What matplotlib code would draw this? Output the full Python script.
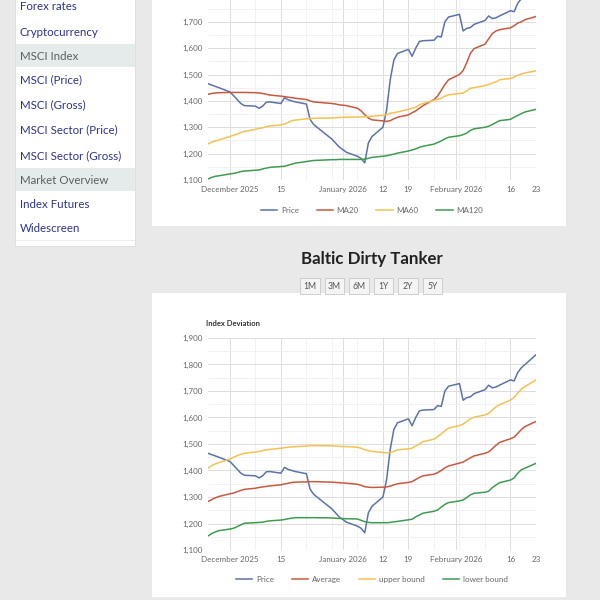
import numpy as np
import pandas as pd
import matplotlib
matplotlib.use('Agg')
import matplotlib.pyplot as plt
import matplotlib.dates as mdates
from matplotlib.patches import Rectangle
from matplotlib.ticker import FuncFormatter, MultipleLocator

# trading days Nov 25 2025 .. Feb 23 2026 (no Dec 25/26, Jan 1)
dates = pd.bdate_range('2025-11-25', '2026-02-23')
dates = dates.drop(pd.to_datetime(['2025-12-25', '2025-12-26', '2026-01-01']))

price = [1465, 1460, 1455, 1450,
         1434, 1420, 1405, 1390, 1382,
         1380, 1372, 1380, 1395, 1396,
         1390, 1412, 1404, 1400, 1396,
         1388, 1330, 1310,
         1255, 1240, 1225,
         1205,
         1190, 1182, 1165, 1240, 1265,
         1300, 1365, 1480, 1555, 1580,
         1595, 1569, 1600, 1625, 1628,
         1630, 1645, 1642, 1700, 1718,
         1728, 1665, 1675, 1678, 1690,
         1705, 1722, 1712, 1715, 1722,
         1742, 1738, 1770, 1788, 1800,
         1837]

ma20 = [1425, 1428, 1430, 1431,
        1432, 1432, 1432, 1432, 1432,
        1431, 1430, 1428, 1425, 1422,
        1418, 1416, 1414, 1412, 1410,
        1405, 1400, 1396,
        1390, 1388, 1385,
        1382,
        1372, 1362, 1348, 1335, 1328,
        1324, 1322, 1325, 1332, 1338,
        1347, 1355, 1362, 1372, 1382,
        1405, 1418, 1440, 1462, 1480,
        1500, 1515, 1545, 1580, 1598,
        1615, 1635, 1655, 1665, 1670,
        1677, 1685, 1695, 1700, 1708,
        1720]

ma60 = [1237, 1243, 1248, 1252,
        1265, 1270, 1274, 1280, 1284,
        1292, 1296, 1298, 1302, 1305,
        1309, 1312, 1318, 1325, 1327,
        1332, 1333, 1334,
        1335, 1336, 1337,
        1338,
        1339, 1339, 1340, 1341, 1342,
        1345, 1348, 1353, 1355, 1358,
        1368, 1372, 1376, 1385, 1390,
        1402, 1406, 1410, 1418, 1423,
        1428, 1430, 1438, 1448, 1450,
        1458, 1462, 1468, 1472, 1480,
        1485, 1490, 1497, 1502, 1506,
        1514]

ma120 = [1104, 1110, 1114, 1116,
         1123, 1125, 1128, 1132, 1134,
         1137, 1138, 1142, 1145, 1148,
         1151, 1152, 1156, 1160, 1164,
         1170, 1172, 1174,
         1177, 1177, 1178,
         1178,
         1178, 1178, 1179, 1182, 1186,
         1190, 1192, 1195, 1198, 1202,
         1210, 1214, 1218, 1224, 1228,
         1236, 1242, 1248, 1256, 1262,
         1268, 1272, 1278, 1288, 1294,
         1300, 1304, 1310, 1318, 1325,
         1330, 1338, 1345, 1352, 1358,
         1368]

average = [1283, 1290, 1297, 1302,
           1312, 1315, 1320, 1325, 1329,
           1333, 1336, 1338, 1340, 1342,
           1346, 1349, 1352, 1355, 1356,
           1357, 1358, 1358,
           1356, 1355, 1354,
           1352,
           1348, 1344, 1339, 1337, 1336,
           1337, 1338, 1341, 1346, 1350,
           1355, 1358, 1366, 1374, 1380,
           1386, 1392, 1400, 1410, 1417,
           1428, 1432, 1440, 1448, 1455,
           1465, 1470, 1482, 1495, 1506,
           1520, 1526, 1540, 1555, 1566,
           1585]

upper = [1409, 1418, 1425, 1430,
         1443, 1450, 1456, 1461, 1465,
         1470, 1472, 1475, 1478, 1480,
         1484, 1486, 1488, 1489, 1490,
         1492, 1494, 1494,
         1493, 1492, 1491,
         1490,
         1488, 1484, 1478, 1475, 1472,
         1468, 1467, 1468, 1472, 1478,
         1482, 1484, 1492, 1500, 1509,
         1518, 1528, 1538, 1550, 1560,
         1570, 1575, 1585, 1595, 1601,
         1610, 1615, 1628, 1640, 1648,
         1666, 1676, 1692, 1708, 1717,
         1742]

lower = [1153, 1162, 1168, 1173,
         1179, 1182, 1188, 1195, 1201,
         1203, 1204, 1205, 1208, 1210,
         1213, 1215, 1218, 1220, 1222,
         1222, 1222, 1222,
         1221, 1220, 1219,
         1218,
         1217, 1212, 1207, 1204, 1203,
         1203, 1203, 1204, 1206, 1208,
         1214, 1216, 1225, 1232, 1239,
         1246, 1251, 1262, 1272, 1279,
         1285, 1289, 1298, 1308, 1314,
         1318, 1322, 1335, 1345, 1354,
         1364, 1372, 1390, 1403, 1409,
         1427]

xtick_dates = ['2025-12-01', '2025-12-15', '2026-01-01', '2026-01-12',
               '2026-01-19', '2026-02-01', '2026-02-16', '2026-02-23']
xtick_labels = ['December 2025', '15', 'January 2026', '12', '19',
                'February 2026', '16', '23']

menu = ['Forex rates', 'Cryptocurrency', 'MSCI Index', 'MSCI (Price)', 'MSCI (Gross)',
        'MSCI Sector (Price)', 'MSCI Sector (Gross)', 'Market Overview',
        'Index Futures', 'Widescreen']
menu_headers = ['MSCI Index', 'Market Overview']
buttons = ['1M', '3M', '6M', '1Y', '2Y', '5Y']

C_BLUE = '#5b73a8'
C_RED = '#c65a40'
C_YEL = '#f2c253'
C_GRN = '#3f9b52'

W, H = 600, 600
fig = plt.figure(figsize=(6, 6), dpi=100)
fig.patch.set_facecolor('#e9e9e9')


def box(x0, y0, x1, y1, zorder=-2, **kw):
    # pixel coords, y from top
    r = Rectangle((x0 / W, 1 - y1 / H), (x1 - x0) / W, (y1 - y0) / H,
                  transform=fig.transFigure, zorder=zorder, **kw)
    fig.add_artist(r)
    return r


def txt(x, y, s, **kw):
    fig.text(x / W, 1 - y / H, s, **kw)


# sidebar
box(15, -5, 135, 246, facecolor='white', edgecolor='#dcdcdc', lw=0.6, zorder=-3)
row_y = [7, 33, 56, 80, 105, 130, 156, 180, 205, 229]
for name, y in zip(menu, row_y):
    if name in menu_headers:
        box(15.5, y - 12, 134.5, y + 11, facecolor='#e5eaea', edgecolor='none')
        col = '#5a5f63'
    else:
        col = '#2e3387'
    box(15.5, y + 11.5, 134.5, y + 12.2, facecolor='#eeeeee', edgecolor='none')
    txt(20, y, name, fontsize=8.3, color=col, va='center', ha='left',
        family='Lato', zorder=3)

# cards
box(152, -5, 566, 226, facecolor='white', edgecolor='none', zorder=-3)
box(152, 293, 566, 597, facecolor='white', edgecolor='none', zorder=-3)

# title + range buttons
txt(372, 259, 'Baltic Dirty Tanker', fontsize=12.2, weight='bold', color='#222222',
    ha='center', va='center', family='Lato')
bx = 300
for b in buttons:
    box(bx, 278, bx + 19.5, 294, facecolor='#f4f4f4', edgecolor='#c8c8c8', lw=0.6)
    txt(bx + 9.75, 286.5, b, fontsize=6.2, color='#555555', ha='center', va='center',
        family='Lato', zorder=3)
    bx += 24.5

txt(206, 323, 'Index Deviation', fontsize=5.5, color='#333333', ha='left', va='center',
    family='Lato', weight='bold')


def style_axes(ax, max_label):
    ax.set_zorder(5)
    ax.set_facecolor('none')
    for s in ax.spines.values():
        s.set_visible(False)
    ax.set_ylim(1100, 1900)
    ax.set_xlim(dates[0], dates[-1])
    ax.yaxis.set_major_locator(MultipleLocator(100))
    ax.yaxis.set_minor_locator(MultipleLocator(50))
    ax.yaxis.set_major_formatter(
        FuncFormatter(lambda v, p: f'{v:,.0f}' if v <= max_label else ''))
    ax.set_xticks(pd.to_datetime(xtick_dates))
    ax.set_xticklabels(xtick_labels)
    ax.xaxis.set_minor_locator(mdates.WeekdayLocator(byweekday=mdates.MO))
    ax.tick_params(which='both', length=0, labelsize=5.8, labelcolor='#666666', pad=4)
    ax.grid(which='major', color='#dddddd', lw=0.7)
    ax.grid(which='minor', color='#f0f0f0', lw=0.6)
    for lab in ax.get_xticklabels() + ax.get_yticklabels():
        lab.set_family('Lato')


def add_ax(top_px, bot_px):
    return fig.add_axes([208 / W, 1 - bot_px / H, (536 - 208) / W, (bot_px - top_px) / H])


# top chart: price with moving averages
ax1 = add_ax(-31, 180)
style_axes(ax1, 1700)
ax1.plot(dates, price, color=C_BLUE, lw=1.1, label='Price')
ax1.plot(dates, ma20, color=C_RED, lw=1.1, label='MA20')
ax1.plot(dates, ma60, color=C_YEL, lw=1.1, label='MA60')
ax1.plot(dates, ma120, color=C_GRN, lw=1.1, label='MA120')
ax1.legend(loc='center', bbox_to_anchor=(0.5, -0.145), ncol=4, frameon=False,
           handlelength=2.0, handletextpad=0.5, columnspacing=2.2, labelcolor='#666666',
           prop={'family': 'Lato', 'size': 5.8})

# bottom chart: deviation bands
ax2 = add_ax(338, 550)
style_axes(ax2, 1900)
ax2.plot(dates, price, color=C_BLUE, lw=1.1, label='Price')
ax2.plot(dates, average, color=C_RED, lw=1.1, label='Average')
ax2.plot(dates, upper, color=C_YEL, lw=1.1, label='upper bound')
ax2.plot(dates, lower, color=C_GRN, lw=1.1, label='lower bound')
ax2.legend(loc='center', bbox_to_anchor=(0.5, -0.14), ncol=4, frameon=False,
           handlelength=2.0, handletextpad=0.5, columnspacing=2.2, labelcolor='#666666',
           prop={'family': 'Lato', 'size': 5.8})

fig.savefig('out.png', dpi=100, facecolor=fig.get_facecolor())
